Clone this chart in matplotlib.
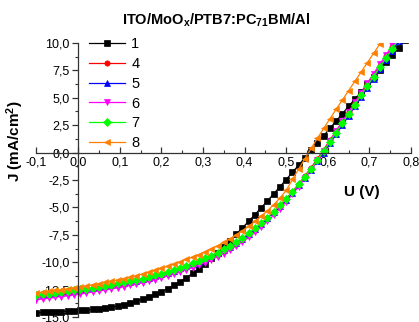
import matplotlib
matplotlib.use("Agg")
import matplotlib.pyplot as plt
from matplotlib.ticker import MultipleLocator, FuncFormatter

plt.rcParams['font.family'] = ['Liberation Sans', 'DejaVu Sans']
plt.rcParams['mathtext.fontset'] = 'custom'
plt.rcParams['mathtext.rm'] = 'Liberation Sans:bold'
plt.rcParams['mathtext.default'] = 'rm'

# voltage steps (V)
voltage = [-0.1, -0.085, -0.07, -0.055, -0.04, -0.025, -0.01, 0.005, 0.02, 0.035,
           0.05, 0.065, 0.08, 0.095, 0.11, 0.125, 0.14, 0.155, 0.17, 0.185,
           0.2, 0.215, 0.23, 0.245, 0.26, 0.275, 0.29, 0.305, 0.32, 0.335,
           0.35, 0.365, 0.38, 0.395, 0.41, 0.425, 0.44, 0.455, 0.47, 0.485,
           0.5, 0.515, 0.53, 0.545, 0.56, 0.575, 0.59, 0.605, 0.62, 0.635,
           0.65, 0.665, 0.68, 0.695, 0.71, 0.725, 0.74, 0.755, 0.77, 0.785]

# current density (mA/cm^2) per device
j1 = [-14.6, -14.58, -14.56, -14.54, -14.51, -14.48, -14.44, -14.4, -14.36, -14.31,
      -14.25, -14.18, -14.1, -14.0, -13.88, -13.74, -13.57, -13.38, -13.16, -12.93,
      -12.68, -12.41, -12.1, -11.77, -11.41, -11.02, -10.6, -10.14, -9.65, -9.13,
      -8.59, -8.03, -7.45, -6.86, -6.26, -5.65, -5.03, -4.4, -3.76, -3.11,
      -2.46, -1.8, -1.14, -0.47, 0.2, 0.87, 1.54, 2.21, 2.88, 3.55,
      4.22, 4.89, 5.56, 6.23, 6.9, 7.57, 8.24, 8.91, 9.58, 10.25]
j4 = [-13.12, -13.05, -12.98, -12.91, -12.84, -12.77, -12.69, -12.61, -12.53, -12.44,
      -12.35, -12.26, -12.16, -12.06, -11.95, -11.84, -11.73, -11.61, -11.48, -11.33,
      -11.17, -11.0, -10.82, -10.63, -10.43, -10.22, -10.0, -9.77, -9.52, -9.25,
      -8.95, -8.63, -8.27, -7.88, -7.45, -6.99, -6.5, -5.98, -5.42, -4.83,
      -4.21, -3.55, -2.86, -2.13, -1.37, -0.56, 0.28, 1.13, 1.98, 2.83,
      3.68, 4.53, 5.38, 6.23, 7.08, 7.93, 8.78, 9.63, 10.48]
j5 = [-13.06, -12.99, -12.92, -12.85, -12.78, -12.71, -12.63, -12.55, -12.47, -12.38,
      -12.29, -12.2, -12.1, -12.0, -11.89, -11.78, -11.67, -11.55, -11.42, -11.27,
      -11.11, -10.94, -10.76, -10.57, -10.37, -10.16, -9.94, -9.71, -9.46, -9.19,
      -8.9, -8.58, -8.23, -7.85, -7.43, -6.98, -6.5, -5.99, -5.45, -4.88,
      -4.28, -3.65, -2.99, -2.3, -1.57, -0.8, 0.0, 0.83, 1.67, 2.51,
      3.36, 4.21, 5.06, 5.91, 6.76, 7.61, 8.46, 9.31, 10.16]
j6 = [-13.42, -13.35, -13.28, -13.21, -13.13, -13.06, -12.98, -12.9, -12.81, -12.72,
      -12.63, -12.54, -12.44, -12.34, -12.23, -12.12, -12.0, -11.88, -11.75, -11.6,
      -11.44, -11.27, -11.09, -10.9, -10.7, -10.49, -10.27, -10.03, -9.78, -9.51,
      -9.21, -8.89, -8.54, -8.15, -7.73, -7.27, -6.78, -6.26, -5.7, -5.11,
      -4.48, -3.81, -3.1, -2.36, -1.57, -0.72, 0.17, 1.06, 1.95, 2.84,
      3.72, 4.6, 5.47, 6.34, 7.2, 8.06, 8.92, 9.78, 10.64]
j7 = [-13.0, -12.93, -12.86, -12.79, -12.72, -12.65, -12.57, -12.49, -12.41, -12.32,
      -12.23, -12.14, -12.04, -11.94, -11.83, -11.72, -11.61, -11.49, -11.36, -11.21,
      -11.05, -10.88, -10.7, -10.51, -10.31, -10.1, -9.88, -9.65, -9.4, -9.13,
      -8.84, -8.52, -8.17, -7.79, -7.37, -6.92, -6.44, -5.93, -5.39, -4.82,
      -4.22, -3.58, -2.91, -2.21, -1.47, -0.68, 0.14, 0.98, 1.83, 2.68,
      3.53, 4.38, 5.23, 6.08, 6.93, 7.78, 8.63, 9.48, 10.33]
j8 = [-12.8, -12.72, -12.65, -12.57, -12.5, -12.42, -12.33, -12.25, -12.15, -12.06,
      -11.96, -11.85, -11.74, -11.62, -11.5, -11.37, -11.23, -11.08, -10.92, -10.75,
      -10.56, -10.37, -10.17, -9.96, -9.75, -9.53, -9.3, -9.05, -8.78, -8.5,
      -8.2, -7.87, -7.51, -7.13, -6.72, -6.28, -5.81, -5.3, -4.76, -4.15,
      -3.45, -2.45, -1.5, -0.55, 0.38, 1.3, 2.2, 3.08, 3.95, 4.8,
      5.65, 6.5, 7.35, 8.2, 9.05, 9.9, 10.75]

labels = ['1', '4', '5', '6', '7', '8']
series = [j1, j4, j5, j6, j7, j8]
colors = ['#000000', '#FF0000', '#0000FF', '#FF00FF', '#00FF00', '#FF8000']
markers = ['s', 'o', '^', 'v', 'D', '<']

fig = plt.figure(figsize=(4.19, 3.22), dpi=100)
ax = fig.add_axes([0.087, 0.0155, 0.894, 0.851])

for lab, jj, c, m in zip(labels, series, colors, markers):
    ax.plot(voltage[:len(jj)], jj, color=c, marker=m, markersize=3.8,
            linewidth=0.9, markeredgewidth=0.5, label=lab)

ax.set_xlim(-0.1, 0.8)
ax.set_ylim(-15, 10)

# axes cross at origin
ax.spines['left'].set_position(('data', 0))
ax.spines['bottom'].set_position(('data', 0))
ax.spines['top'].set_visible(False)
ax.spines['right'].set_visible(False)
for s in ('left', 'bottom'):
    ax.spines[s].set_linewidth(0.9)
    ax.spines[s].set_color('#333333')

comma = FuncFormatter(lambda v, p: f"{0.0 if abs(v) < 1e-9 else v:.1f}".replace('.', ','))
ax.xaxis.set_major_locator(MultipleLocator(0.1))
ax.xaxis.set_minor_locator(MultipleLocator(0.05))
ax.yaxis.set_major_locator(MultipleLocator(2.5))
ax.yaxis.set_minor_locator(MultipleLocator(1.25))
ax.xaxis.set_major_formatter(comma)
ax.yaxis.set_major_formatter(comma)
ax.tick_params(axis='x', which='both', direction='in', labelsize=9, pad=3, colors='#333333', labelcolor='black')
ax.tick_params(axis='y', which='both', direction='out', labelsize=9, pad=2, colors='#333333', labelcolor='black')
ax.tick_params(which='major', length=4, width=0.9)
ax.tick_params(which='minor', length=2.5, width=0.8)

ax.set_xlabel('U (V)', fontsize=11, fontweight='bold', va='center')
ax.xaxis.set_label_coords(0.869, 0.456)
ax.set_ylabel('J (mA/cm$^2$)', fontsize=11, fontweight='bold', va='center')
ax.yaxis.set_label_coords(-0.057, 0.64)

fig.text(216 / 419, 0.925, 'ITO/MoO$_x$/PTB7:PC$_{71}$BM/Al', ha='center',
         va='baseline', fontsize=10.5, fontweight='bold')

ax.legend(loc='upper left', bbox_to_anchor=(89 / 419, 1 - 37 / 322),
          bbox_transform=fig.transFigure, frameon=False, numpoints=1,
          fontsize=10.5, handlelength=2.5, handletextpad=0.4, labelspacing=0.4,
          borderpad=0, borderaxespad=0)

fig.savefig('out.png', dpi=100)
